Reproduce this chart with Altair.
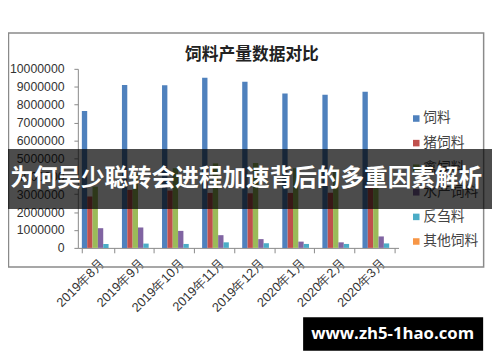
import altair as alt
import pandas as pd

months = ["2019年8月", "2019年9月", "2019年10月", "2019年11月", "2019年12月", "2020年1月", "2020年2月", "2020年3月"]
series = ["饲料", "猪饲料", "禽饲料", "水产饲料", "反刍料", "其他饲料"]
colors = ["#4F81BD", "#C0504D", "#9BBB59", "#8064A2", "#4BACC6", "#F79646"]

feed = [7650000, 9100000, 9080000, 9500000, 9280000, 8620000, 8550000, 8720000]
pig = [2870000, 3240000, 3200000, 3070000, 3050000, 3070000, 3080000, 3500000]
poultry = [3420000, 4170000, 4450000, 4720000, 4740000, 4450000, 4400000, 4250000]
aqua = [1100000, 1140000, 950000, 710000, 490000, 350000, 310000, 640000]
ruminant = [220000, 240000, 220000, 310000, 260000, 220000, 220000, 250000]
other = [0, 0, 0, 0, 0, 0, 0, 0]

title_text = "饲料产量数据对比"
banner_text = "为何吴少聪转会进程加速背后的多重因素解析"
watermark_text = "www.zh5-1hao.com"
y_ticks = [0, 1000000, 2000000, 3000000, 4000000, 5000000, 6000000, 7000000, 8000000, 9000000, 10000000]

rows = []
for name, vals in zip(series, [feed, pig, poultry, aqua, ruminant, other]):
    for m, v in zip(months, vals):
        rows.append({"month": m, "series": name, "value": v})
df = pd.DataFrame(rows)
legend_df = pd.DataFrame({"series": series})

one = alt.Data(values=[{}])
color_scale = alt.Scale(domain=series, range=colors)

frame = alt.Chart(one).mark_rect(filled=False, stroke="#8a8a8a", strokeWidth=1.5).encode(
    x=alt.value(-70.5), x2=alt.value(412.5), y=alt.value(-36.5), y2=alt.value(201.5)
)

title = alt.Chart(one).mark_text(
    font="Noto Sans CJK SC", fontSize=17, fontWeight="bold", color="#222"
).encode(x=alt.value(177), y=alt.value(-14), text=alt.value(title_text))

bars = alt.Chart(df).mark_bar().encode(
    x=alt.X("month:N", sort=months, title=None,
            scale=alt.Scale(paddingInner=0.2, paddingOuter=0.1),
            axis=alt.Axis(labelAngle=-45, tickBand="extent", domainColor="#888", tickColor="#888",
                          tickSize=5, labelFont="Liberation Sans", labelFontSize=13,
                          labelColor="#333", labelPadding=4)),
    xOffset=alt.XOffset("series:N", sort=series),
    y=alt.Y("value:Q", title=None,
            scale=alt.Scale(domain=[0, 10000000], nice=False),
            axis=alt.Axis(values=y_ticks, format="d", grid=False, domainColor="#888", tickColor="#888",
                          tickSize=4, labelPadding=10, labelFont="Liberation Sans", labelFontSize=12.5,
                          labelColor="#333")),
    color=alt.Color("series:N", sort=series, scale=color_scale, legend=None),
)

leg_y = alt.Y("series:N", sort=series, axis=None,
              scale=alt.Scale(domain=series, range=[50.5, 175.5], padding=0))

leg_sym = alt.Chart(legend_df).mark_square(size=44, opacity=1).encode(
    x=alt.value(344), y=leg_y,
    color=alt.Color("series:N", sort=series, scale=color_scale, legend=None),
)

leg_txt = alt.Chart(legend_df).mark_text(
    align="left", baseline="middle", font="Noto Sans CJK SC", fontSize=14, color="#444"
).encode(x=alt.value(351), y=leg_y, text="series:N")

banner = alt.Chart(one).mark_rect(fill="black", opacity=0.7).encode(
    x=alt.value(-71), x2=alt.value(421), y=alt.value(81.5), y2=alt.value(142.5)
)

btext = alt.Chart(one).mark_text(
    font="Noto Sans CJK SC", fontSize=24, fontWeight="bold", color="white"
).encode(x=alt.value(171), y=alt.value(112), text=alt.value(banner_text))

wm_rect = alt.Chart(one).mark_rect(fill="black").encode(
    x=alt.value(229), x2=alt.value(412), y=alt.value(252.5), y2=alt.value(286.5)
)

wm_text = alt.Chart(one).mark_text(
    font="Open Sans", fontSize=17, fontWeight="bold", color="white"
).encode(x=alt.value(320), y=alt.value(269.5), text=alt.value(watermark_text))

chart = alt.layer(frame, title, bars, leg_sym, leg_txt, banner, btext, wm_rect, wm_text).resolve_scale(
    y="independent"
).properties(
    width=326, height=182,
    padding={"left": 71, "top": 59, "right": 95, "bottom": 104},
    autosize=alt.AutoSizeParams(type="none"),
).configure_view(strokeWidth=0)

chart.save("out.html", embed_options={"renderer": "svg", "actions": False})
